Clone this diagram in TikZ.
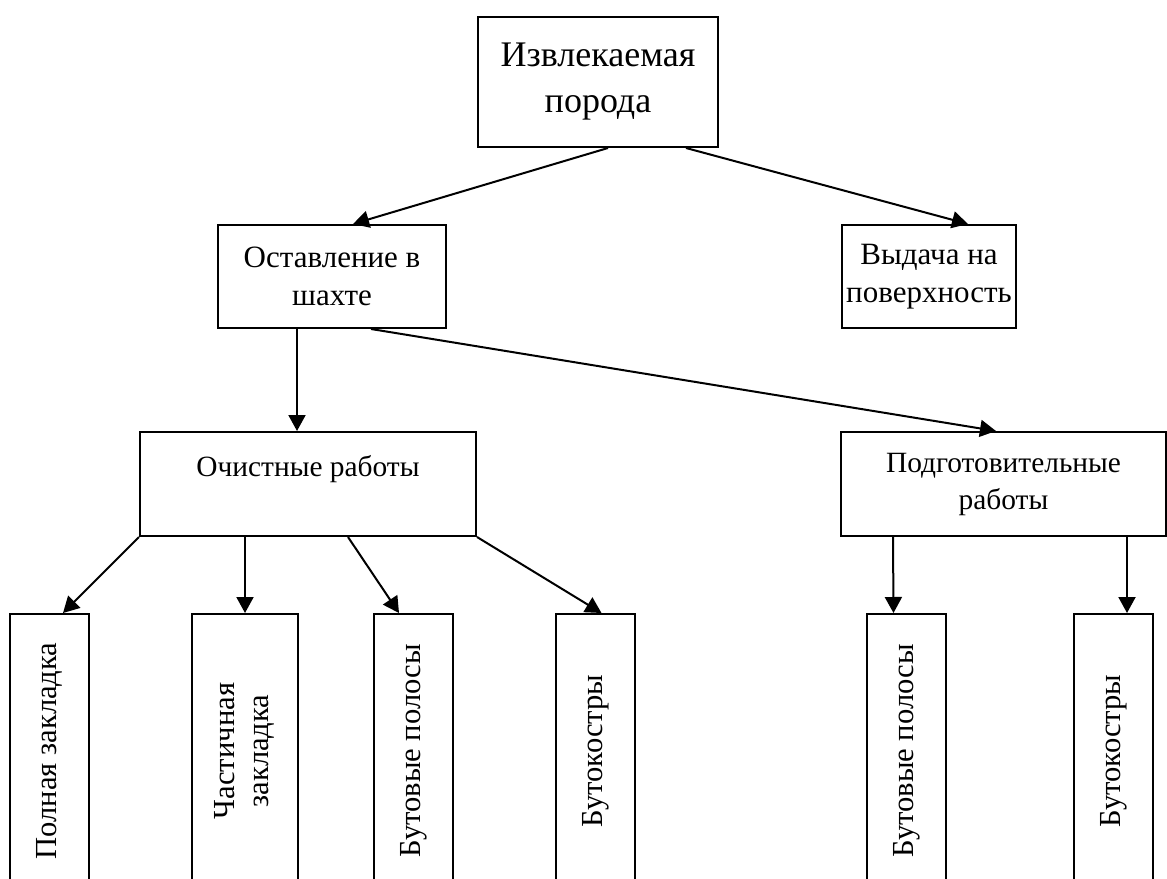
\documentclass[tikz,border=0pt]{standalone}
\usepackage{fontspec}
\setmainfont{Liberation Serif}
\usepackage{graphicx}
\usetikzlibrary{arrows.meta}
\begin{document}
\begin{tikzpicture}[x=0.5pt,y=-0.5pt,
  box/.style={draw,line width=1pt,rectangle,anchor=north west,align=center,inner sep=0pt},
  leaf/.style={box,minimum width=39.5pt,minimum height=137pt,font=\fontsize{15.3}{17}\selectfont},
  arr/.style={line width=1pt,-{Triangle[length=8pt,width=8.5pt]}}]
\clip (0,0) rectangle (1167,878);
\node[box,minimum width=120pt,minimum height=65pt,font=\fontsize{18}{23}\selectfont] (rock) at (477,16) {Извлекаемая\\порода};
\node[box,minimum width=114pt,minimum height=51.5pt,font=\fontsize{15.5}{19}\selectfont] (leave) at (217,224) {Оставление в\\шахте};
\node[box,minimum width=87pt,minimum height=51.5pt,font=\fontsize{15.5}{19}\selectfont] (lift) at (841,224) {Выдача на\\поверхность};
\node[box,minimum width=168pt,minimum height=52pt,font=\fontsize{14.7}{18.5}\selectfont] (clean) at (139,431) {Очистные работы\\\mbox{}};
\node[box,minimum width=162.5pt,minimum height=52pt,font=\fontsize{14.7}{18.5}\selectfont] (prep) at (840,431) {Подготовительные\\работы};
\node[leaf] (full) at (9,613) {\rotatebox{90}{Полная закладка}};
\node[leaf,minimum width=53pt] (part) at (191,613) {\rotatebox{90}{\begin{tabular}{@{}c@{}}Частичная\\закладка\end{tabular}}};
\node[leaf] (strip1) at (373,613) {\rotatebox{90}{Бутовые полосы}};
\node[leaf] (pack1) at (555,613) {\rotatebox{90}{Бутокостры}};
\node[leaf] (strip2) at (866,613) {\rotatebox{90}{Бутовые полосы}};
\node[leaf] (pack2) at (1073,613) {\rotatebox{90}{Бутокостры}};
\draw[arr] ([xshift=5pt]rock.south) -- ([xshift=10.5pt]leave.north);
\draw[arr] ([xshift=44pt]rock.south) -- ([xshift=19.5pt]lift.north);
\draw[arr] ([xshift=-17.5pt]leave.south) -- ([xshift=-5.5pt]clean.north);
\draw[arr] ([xshift=19.5pt]leave.south) -- ([xshift=-3.75pt]prep.north);
\draw[arr] (clean.south west) -- ([xshift=6.75pt]full.north);
\draw[arr] (part.north |- clean.south) -- (part.north);
\draw[arr] ([xshift=20pt]clean.south) -- ([xshift=-7.25pt]strip1.north);
\draw[arr] (clean.south east) -- ([xshift=3pt]pack1.north);
\draw[arr] ([xshift=-55.25pt]prep.south) -- ([xshift=-6.5pt]strip2.north);
\draw[arr] ([xshift=61.75pt]prep.south) -- ([xshift=6.75pt]pack2.north);
\end{tikzpicture}
\end{document}
